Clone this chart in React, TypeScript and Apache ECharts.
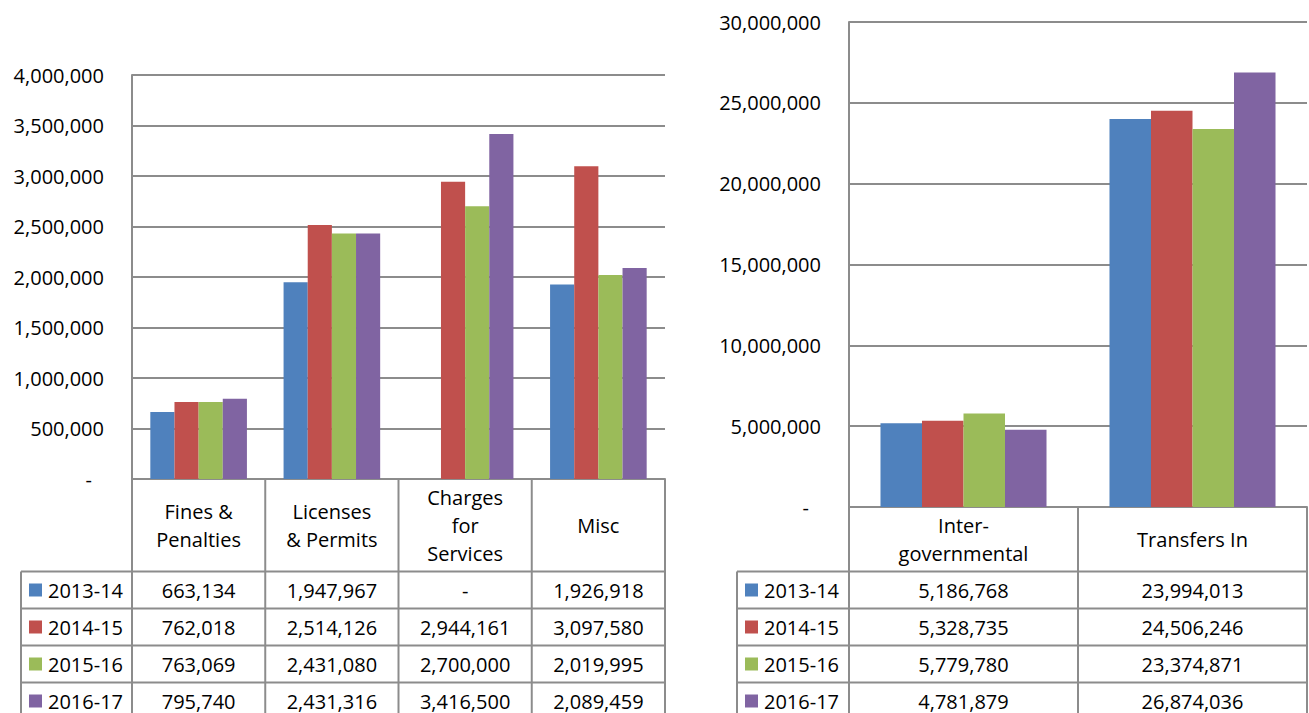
import React, { useEffect, useRef } from "react";
import * as echarts from "echarts";

// ---- data ----
const seriesNames = ["2013-14", "2014-15", "2015-16", "2016-17"];
const seriesColors = ["#4F81BD", "#C0504D", "#9BBB59", "#8064A2"];

const leftCategories = ["Fines &\nPenalties", "Licenses\n& Permits", "Charges\nfor\nServices", "Misc"];
const left2013 = [663134, 1947967, null, 1926918];
const left2014 = [762018, 2514126, 2944161, 3097580];
const left2015 = [763069, 2431080, 2700000, 2019995];
const left2016 = [795740, 2431316, 3416500, 2089459];
const leftAxisMax = 4000000;
const leftAxisStep = 500000;

const rightCategories = ["Inter-\ngovernmental", "Transfers In"];
const right2013 = [5186768, 23994013];
const right2014 = [5328735, 24506246];
const right2015 = [5779780, 23374871];
const right2016 = [4781879, 26874036];
const rightAxisMax = 30000000;
const rightAxisStep = 5000000;

const leftSeries = [left2013, left2014, left2015, left2016];
const rightSeries = [right2013, right2014, right2015, right2016];

// ---- styles / layout ----
const FONT = '"Open Sans", "Noto Sans", sans-serif';
const FS = 20;
const GRAY = "#8c8c8c";
const LW = 2;
const ROW_H = 37;
const ROWS_TOP = 571.5;

const L = { legendX: 21, x: 132, top: 75, w: 533, h: 404 };
const R = { legendX: 737, x: 849, top: 22, w: 458, h: 485 };

const fmt = (v: number | null) => (v === null || v === 0 ? "-" : v.toLocaleString("en-US"));

function line(x1: number, y1: number, x2: number, y2: number) {
  return {
    type: "line",
    silent: true,
    shape: { x1, y1, x2, y2 },
    style: { stroke: GRAY, lineWidth: LW },
  };
}

function text(t: string, x: number, y: number, align = "center", lh = 22) {
  return {
    type: "text",
    silent: true,
    style: {
      text: t,
      x,
      y,
      textAlign: align,
      textVerticalAlign: "middle",
      fontFamily: FONT,
      fontSize: FS,
      lineHeight: lh,
      fill: "#000",
    },
  };
}

function buildTable(cfg: typeof L, cats: string[], data: (number | null)[][]) {
  const els: any[] = [];
  const n = cats.length;
  const colW = cfg.w / n;
  const right = cfg.x + cfg.w;
  const headerTop = cfg.top + cfg.h;
  const bottom = ROWS_TOP + ROW_H * data.length;
  for (let i = 0; i <= n; i++) {
    const x = cfg.x + i * colW;
    els.push(line(x, headerTop, x, bottom + 10));
  }
  cats.forEach((c, i) => {
    els.push(text(c, cfg.x + (i + 0.5) * colW, (headerTop + ROWS_TOP) / 2, "center", 28));
  });
  els.push(line(cfg.legendX, ROWS_TOP, cfg.legendX, bottom + 10));
  for (let r = 0; r <= data.length; r++) {
    const y = ROWS_TOP + r * ROW_H;
    els.push(line(cfg.legendX, y, right, y));
  }
  data.forEach((row, r) => {
    const cy = ROWS_TOP + (r + 0.5) * ROW_H;
    els.push({
      type: "rect",
      silent: true,
      shape: { x: cfg.legendX + 8, y: cy - 6.5, width: 13, height: 13 },
      style: { fill: seriesColors[r] },
    });
    els.push(text(seriesNames[r], cfg.legendX + 27, cy, "left"));
    row.forEach((v, i) => {
      els.push(text(fmt(v), cfg.x + (i + 0.5) * colW, cy));
    });
  });
  return els;
}

function yAxis(gridIndex: number, max: number, step: number) {
  return {
    type: "value",
    gridIndex,
    min: 0,
    max,
    interval: step,
    axisLine: { show: true, lineStyle: { color: GRAY, width: LW } },
    axisTick: { show: false },
    splitLine: { show: true, lineStyle: { color: GRAY, width: LW } },
    axisLabel: {
      margin: 28,
      color: "#000",
      fontFamily: FONT,
      fontSize: FS,
      formatter: (v: number) => (v === 0 ? "{d|-}" : v.toLocaleString("en-US")),
      rich: { d: { padding: [0, 12, 0, 0], fontFamily: FONT, fontSize: FS, color: "#000" } },
    },
  };
}

function xAxis(gridIndex: number, cats: string[]) {
  return {
    type: "category",
    gridIndex,
    data: cats,
    axisLine: { show: true, lineStyle: { color: GRAY, width: LW } },
    axisTick: { show: false },
    axisLabel: { show: false },
    splitLine: { show: false },
  };
}

export default function App() {
  const ref = useRef<HTMLDivElement>(null);
  useEffect(() => {
    if (!ref.current) return;
    const chart = echarts.init(ref.current, undefined, { renderer: "svg" });
    const series: any[] = [];
    leftSeries.forEach((d, i) =>
      series.push({
        type: "bar",
        name: seriesNames[i],
        xAxisIndex: 0,
        yAxisIndex: 0,
        data: d,
        barGap: "0%",
        barCategoryGap: "27.5%",
        itemStyle: { color: seriesColors[i] },
      })
    );
    rightSeries.forEach((d, i) =>
      series.push({
        type: "bar",
        name: seriesNames[i],
        xAxisIndex: 1,
        yAxisIndex: 1,
        data: d,
        barGap: "0%",
        barCategoryGap: "27.5%",
        itemStyle: { color: seriesColors[i] },
      })
    );
    chart.setOption({
      animation: false,
      backgroundColor: "#fff",
      grid: [
        { left: L.x, top: L.top, width: L.w, height: L.h },
        { left: R.x, top: R.top, width: R.w, height: R.h },
      ],
      xAxis: [xAxis(0, leftCategories), xAxis(1, rightCategories)],
      yAxis: [yAxis(0, leftAxisMax, leftAxisStep), yAxis(1, rightAxisMax, rightAxisStep)],
      series,
      graphic: [
        ...buildTable(L, leftCategories, leftSeries),
        ...buildTable(R, rightCategories, rightSeries),
      ],
    });
    return () => chart.dispose();
  }, []);
  return (
    <div
      ref={ref}
      style={{ position: "fixed", left: 0, top: 0, width: 1309, height: 713, background: "#fff" }}
    />
  );
}
